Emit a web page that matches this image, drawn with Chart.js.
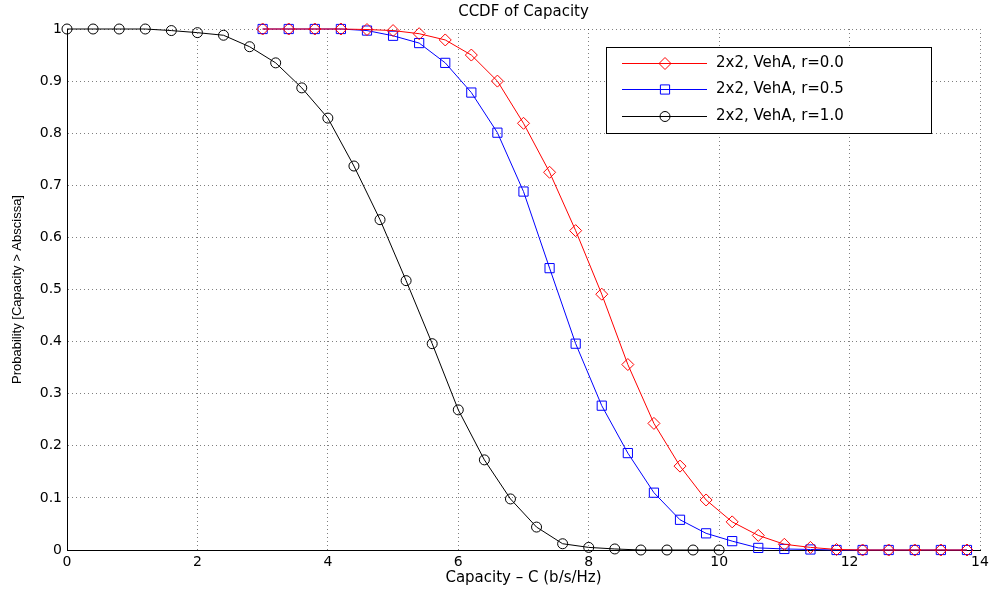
<!DOCTYPE html>
<html>
<head>
<meta charset="utf-8">
<script src="https://cdn.jsdelivr.net/npm/chart.js@4/dist/chart.umd.min.js"></script>
<style>
  html, body { margin: 0; padding: 0; background: #fff; }
  #wrap { width: 991px; height: 591px; }
</style>
</head>
<body>
<div id="wrap"><canvas id="ccdfChart" width="991" height="591"></canvas></div>
<script>
// capacity grid (b/s/Hz)
const capR1 = [0, 0.4, 0.8, 1.2, 1.6, 2.0, 2.4, 2.8, 3.2, 3.6, 4.0, 4.4, 4.8, 5.2, 5.6, 6.0, 6.4, 6.8, 7.2, 7.6, 8.0, 8.4, 8.8, 9.2, 9.6, 10.0];
const capR0 = [3.0, 3.4, 3.8, 4.2, 4.6, 5.0, 5.4, 5.8, 6.2, 6.6, 7.0, 7.4, 7.8, 8.2, 8.6, 9.0, 9.4, 9.8, 10.2, 10.6, 11.0, 11.4, 11.8, 12.2, 12.6, 13.0, 13.4, 13.8];

// P[Capacity > Abscissa]
const ccdfR00 = [1, 1, 1, 1, 0.999, 0.997, 0.991, 0.979, 0.95, 0.9, 0.819, 0.725, 0.613, 0.491, 0.356, 0.243, 0.161, 0.096, 0.054, 0.028, 0.011, 0.005, 0.001, 0, 0, 0, 0, 0];
const ccdfR05 = [1, 1, 1, 1, 0.997, 0.987, 0.973, 0.935, 0.878, 0.801, 0.688, 0.541, 0.396, 0.277, 0.186, 0.11, 0.058, 0.032, 0.017, 0.004, 0.002, 0.001, 0, 0, 0, 0, 0, 0];
const ccdfR10 = [1, 1, 1, 1, 0.997, 0.993, 0.988, 0.966, 0.935, 0.887, 0.829, 0.737, 0.634, 0.517, 0.396, 0.269, 0.173, 0.098, 0.044, 0.012, 0.005, 0.002, 0, 0, 0, 0];

const seriesLabels = ['2x2, VehA, r=0.0', '2x2, VehA, r=0.5', '2x2, VehA, r=1.0'];

const FONT = '"DejaVu Sans", "Liberation Sans", sans-serif';

function pts(xs, ys) {
    return xs.map((x, i) => ({ x: x, y: ys[i] }));
}

function markerPath(ctx, style, r, x, y) {
    ctx.beginPath();
    if (style === 'rectRot') {
        ctx.moveTo(x, y - r); ctx.lineTo(x + r, y); ctx.lineTo(x, y + r); ctx.lineTo(x - r, y); ctx.closePath();
    } else if (style === 'rect') {
        const s = r * Math.SQRT1_2;
        ctx.rect(x - s, y - s, 2 * s, 2 * s);
    } else {
        ctx.arc(x, y, r, 0, Math.PI * 2);
    }
}

// title + boxed legend in the upper right, like the matlab figure
const frameDecor = {
    id: 'frameDecor',
    afterDraw(chart) {
        const ctx = chart.ctx;
        const area = chart.chartArea;
        ctx.save();
        ctx.fillStyle = '#000';
        ctx.font = '15px ' + FONT;
        ctx.textAlign = 'center';
        ctx.textBaseline = 'middle';
        ctx.fillText('CCDF of Capacity', (area.left + area.right) / 2, 12);

        const bx = area.right - 374, by = area.top + 18, bw = 325, bh = 86;
        ctx.fillStyle = '#fff';
        ctx.fillRect(bx, by, bw, bh);
        ctx.lineWidth = 1;
        ctx.strokeStyle = '#000';
        ctx.strokeRect(bx + 0.5, by + 0.5, bw, bh);

        const rows = [16, 42, 69];
        chart.data.datasets.forEach((ds, i) => {
            const y = by + rows[i] + 0.5;
            ctx.strokeStyle = ds.borderColor;
            ctx.beginPath();
            ctx.moveTo(bx + 16, y);
            ctx.lineTo(bx + 101, y);
            ctx.stroke();
            markerPath(ctx, ds.pointStyle, ds.pointRadius, bx + 59, y);
            ctx.stroke();
            ctx.fillStyle = '#000';
            ctx.textAlign = 'left';
            ctx.fillText(ds.label, bx + 110, y);
        });
        ctx.restore();
    }
};

document.addEventListener('DOMContentLoaded', function () {
    const el = document.getElementById('ccdfChart');
    const mk = (label, xs, ys, color, style, r) => ({
        label: label,
        data: pts(xs, ys),
        borderColor: color,
        borderWidth: 1,
        pointStyle: style,
        pointRadius: r,
        pointBorderColor: color,
        pointBackgroundColor: 'rgba(0,0,0,0)',
        pointBorderWidth: 1,
        tension: 0,
        fill: false,
        clip: false
    });

    new Chart(el, {
        type: 'line',
        data: {
            datasets: [
                mk(seriesLabels[0], capR0, ccdfR00, '#ff0000', 'rectRot', 6),
                mk(seriesLabels[1], capR0, ccdfR05, '#0000ff', 'rect', 6.5),
                mk(seriesLabels[2], capR1, ccdfR10, '#000000', 'circle', 5)
            ]
        },
        options: {
            responsive: false,
            animation: false,
            layout: { padding: { top: 29, right: 11, left: 0, bottom: 0 } },
            plugins: {
                legend: { display: false },
                title: { display: false },
                tooltip: { enabled: false }
            },
            scales: {
                x: {
                    type: 'linear',
                    min: 0, max: 14,
                    ticks: { stepSize: 2, padding: 4, color: '#000', font: { family: FONT, size: 14 } },
                    grid: { color: 'rgba(0,0,0,0.5)', drawTicks: false },
                    border: { color: '#000', width: 1, dash: [1, 3] },
                    title: { display: true, text: 'Capacity \u2013 C (b/s/Hz)', color: '#000', font: { family: FONT, size: 15 }, padding: { top: 0, bottom: 4 } },
                    afterFit: function (s) { s.height = 41; s.paddingLeft = 0; s.paddingRight = 0; }
                },
                y: {
                    min: 0, max: 1,
                    ticks: {
                        stepSize: 0.1, padding: 5, color: '#000', font: { family: FONT, size: 14 },
                        callback: function (v) { return String(Math.round(v * 10) / 10); }
                    },
                    grid: { color: 'rgba(0,0,0,0.5)', drawTicks: false },
                    border: { color: '#000', width: 1, dash: [1, 3] },
                    title: { display: true, text: 'Probability [Capacity > Abscissa]', color: '#000', font: { family: '"Liberation Sans", sans-serif', size: 13 }, padding: { top: 10, bottom: 0 } },
                    afterFit: function (s) { s.width = 67; s.paddingTop = 0; s.paddingBottom = 0; }
                }
            }
        },
        plugins: [frameDecor]
    });
});
</script>
</body>
</html>
